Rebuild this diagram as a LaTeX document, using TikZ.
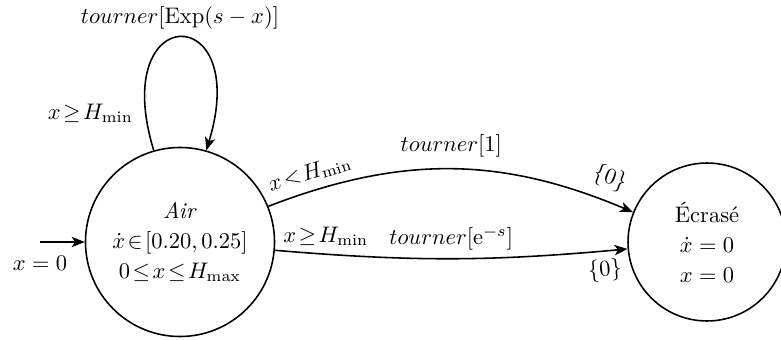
\documentclass[tikz,border=0pt]{standalone}
\usetikzlibrary{arrows.meta}
\begin{document}
\begin{tikzpicture}[x=0.4444pt,y=0.4444pt, line width=0.7pt,
  >={Stealth[length=5.8pt,width=4.6pt,inset=1.5pt]},
  state/.style={circle,draw,align=center,inner sep=0pt,font=\fontsize{10}{13.3}\selectfont},
  lbl/.style={font=\fontsize{10}{12}\selectfont}]
\useasboundingbox (0,0) rectangle (781,339);
\node[state,minimum size=84pt] (air) at (180,97)
  {\textit{Air}\\ $\dot{x}\!\in\![0.20,0.25]$\\ $0\!\leq\! x\!\leq\! H_{\max}$};
\node[state,minimum size=70.2pt] (ecr) at (707,97)
  {\'Ecras\'e\\ $\dot{x}=0$\\ $x=0$};
\coordinate (start) at (40,97);
\draw[->] (start) -- (air) node[lbl,pos=0,below=2.5pt] (linit) {$x=0$};
\draw[->] (air.106) to[out=107,in=73,distance=70pt]
  node[lbl,pos=0.5,above] (lexp) {$tourner[\mathrm{Exp}(s-x)]$}
  node[lbl,pos=0.09,left=2pt] (lloop) {$x\!\geq\! H_{\min}$} (air.74);
\draw[->] (air) to[bend left=22]
  node[lbl,pos=0.12,sloped,above] (lua) {$x\!<\!H_{\min}$}
  node[lbl,pos=0.5,above=1.5pt] (lub) {$tourner[1]$}
  node[lbl,pos=0.92,sloped,above=1.5pt] (luc) {$\{0\}$} (ecr);
\draw[->] (air) to[bend right=5]
  node[lbl,pos=0.13,above] (lla) {$x\!\geq\! H_{\min}$}
  node[lbl,pos=0.5,above] (llb) {$tourner[\mathrm{e}^{-s}]$}
  node[lbl,pos=0.94,sloped,below] (llc) {$\{0\}$} (ecr);
\end{tikzpicture}
\end{document}
